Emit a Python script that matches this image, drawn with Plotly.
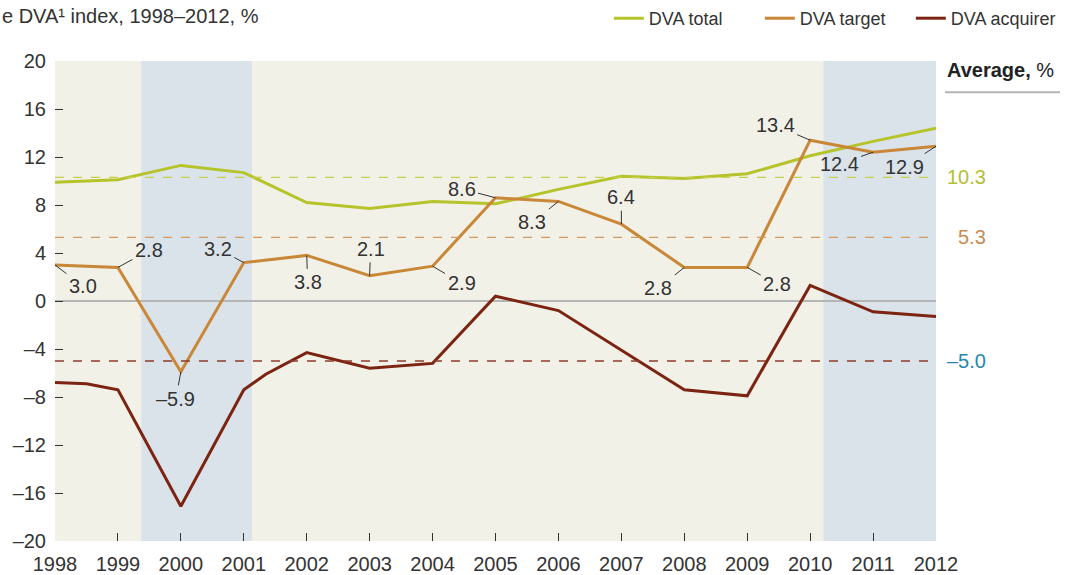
import plotly.graph_objects as go

# ---------------- data ----------------
years = list(range(1998, 2013))
dva_total = [9.9, 10.1, 11.3, 10.7, 8.2, 7.7, 8.3, 8.1, 9.3, 10.4, 10.2, 10.6, 12.1, 13.3, 14.4]
dva_target = [3.0, 2.8, -5.9, 3.2, 3.8, 2.1, 2.9, 8.6, 8.3, 6.4, 2.8, 2.8, 13.4, 12.4, 12.9]
acq_years = [1998, 1998.5, 1999, 2000, 2001, 2001.35, 2002, 2003, 2004, 2005, 2006, 2007, 2008, 2009, 2010, 2011, 2012]
dva_acquirer = [-6.8, -6.9, -7.4, -17.1, -7.4, -6.1, -4.3, -5.6, -5.2, 0.4, -0.8, -4.1, -7.4, -7.9, 1.3, -0.9, -1.3]
averages = [10.3, 5.3, -5.0]
series_names = ["DVA total", "DVA target", "DVA acquirer"]
shaded_periods = [(1999.37, 2001.13), (2010.21, 2012.0)]
y_ticks = list(range(-20, 21, 4))

# ---------------- styles ----------------
C_TOTAL = "#b5c42a"
C_TARGET = "#c98738"
C_ACQ = "#7b2412"
AVG_LINE_COLORS = ["#c5d04e", "#d49a62", "#8e3b2a"]
AVG_TEXT_COLORS = ["#b3c030", "#c98a4e", "#2a86a8"]
TXT = "#333333"
FONT = "Liberation Sans, Arial, sans-serif"
BEIGE = "#f2f1e8"
BLUE = "#dbe3ea"

# label offsets (pixels, text centre relative to point)
label_offsets = [(28, 21), (31, -17), (-5, 27), (-26, -14), (1, 27), (1, -27), (29, 17),
                 (-34, -9), (-26, 21), (0, -27), (-26, 21), (30, 17), (-35, -15), (-34, 12), (-32, 21)]

fig = go.Figure()

fig.add_trace(go.Scatter(x=years, y=dva_total, mode="lines", name=series_names[0],
                         line=dict(color=C_TOTAL, width=3)))
fig.add_trace(go.Scatter(x=years, y=dva_target, mode="lines", name=series_names[1],
                         line=dict(color=C_TARGET, width=3)))
fig.add_trace(go.Scatter(x=acq_years, y=dva_acquirer, mode="lines", name=series_names[2],
                         line=dict(color=C_ACQ, width=3)))

shapes = []
for x0, x1 in shaded_periods:
    shapes.append(dict(type="rect", xref="x", yref="paper", x0=x0, x1=x1, y0=0, y1=1,
                       fillcolor=BLUE, line=dict(width=0), layer="below"))
for v, c in zip(averages, AVG_LINE_COLORS):
    shapes.append(dict(type="line", xref="x", yref="y", x0=years[0], x1=years[-1], y0=v, y1=v,
                       line=dict(color=c, width=1.3, dash="dash"), layer="above"))
# line under "Average, %"
shapes.append(dict(type="line", xref="paper", yref="paper", x0=1.0102, x1=1.1407, y0=0.935, y1=0.935,
                   line=dict(color="#b5b5b5", width=2)))

annotations = []
for yr, v, (ax, ay) in zip(years, dva_target, label_offsets):
    annotations.append(dict(x=yr, y=v, xref="x", yref="y", text=f"{v:.1f}".replace("-", "–"),
                            showarrow=True, arrowhead=0, arrowwidth=1, arrowcolor=TXT,
                            ax=ax, ay=ay, borderpad=2, font=dict(size=20, color=TXT, family=FONT)))
for v, c in zip(averages, AVG_TEXT_COLORS):
    annotations.append(dict(x=1.059, y=v, xref="paper", yref="y", xanchor="right", yanchor="middle",
                            text=f"{v:.1f}".replace("-", "–"), showarrow=False,
                            font=dict(size=20, color=c, family=FONT)))
annotations.append(dict(x=1.0102, y=0.98125, xref="paper", yref="paper", xanchor="left", yanchor="middle",
                        text="<b>Average,</b> %", showarrow=False,
                        font=dict(size=20, color="#222222", family=FONT)))
annotations.append(dict(x=-0.0624, y=1.09375, xref="paper", yref="paper", xanchor="left", yanchor="middle",
                        text="e DVA¹ index, 1998–2012, %", showarrow=False,
                        font=dict(size=20, color=TXT, family=FONT)))

fig.update_layout(
    width=1078, height=575,
    margin=dict(l=55, r=142, t=61, b=34, autoexpand=False),
    paper_bgcolor="white", plot_bgcolor=BEIGE,
    font=dict(family=FONT, color=TXT, size=20),
    showlegend=True,
    legend=dict(orientation="h", xref="container", yref="container", x=0.985, y=1.0,
                xanchor="right", yanchor="top", font=dict(size=18, color=TXT, family=FONT),
                bgcolor="rgba(0,0,0,0)", entrywidth=106, entrywidthmode="pixels", tracegroupgap=0),
    shapes=shapes, annotations=annotations,
    xaxis=dict(range=[1998, 2012], tickvals=years, ticktext=[str(y) for y in years],
               ticks="inside", ticklen=8, tickcolor=TXT, showgrid=False, zeroline=False,
               showline=False, tickfont=dict(size=20, color=TXT), ticklabelstandoff=9,
               automargin=False),
    yaxis=dict(range=[-20, 20], tickvals=y_ticks, ticktext=[str(t).replace("-", "–") for t in y_ticks],
               ticks="inside", ticklen=8, tickcolor=TXT, showgrid=False, zeroline=True,
               zerolinecolor="#b5b5b5", zerolinewidth=2, showline=False,
               tickfont=dict(size=20, color=TXT), ticklabelstandoff=8, automargin=False),
)

fig.write_html("out.html")
